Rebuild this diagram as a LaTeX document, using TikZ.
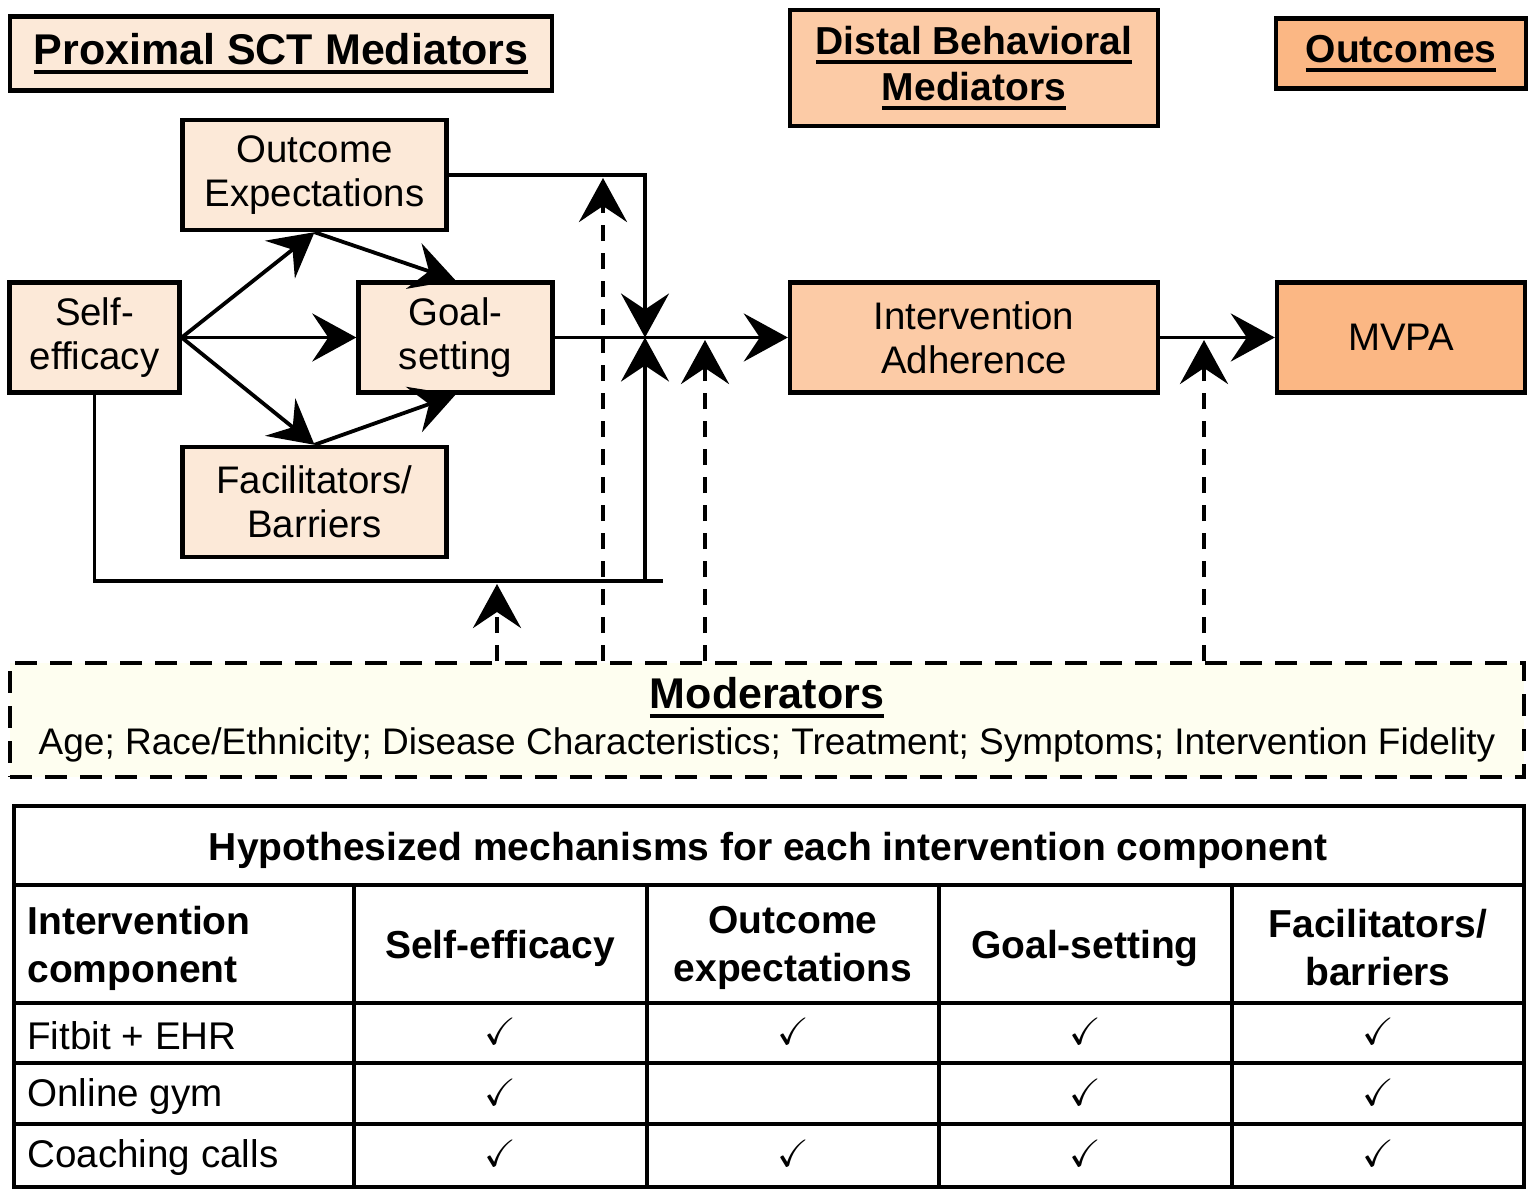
\documentclass[tikz,border=0pt]{standalone}
\usepackage{fontspec}
\setmainfont{Liberation Sans}
\usepackage{amssymb}
\usetikzlibrary{arrows.meta}
\definecolor{lightbox}{HTML}{FCE9D8}
\definecolor{midbox}{HTML}{FCCBA6}
\definecolor{darkbox}{HTML}{FBB784}
\definecolor{modfill}{HTML}{FEFEF0}
\newsavebox{\ulbox}
\newcommand{\ulined}[1]{\sbox{\ulbox}{#1}\rlap{\rule[-4.5pt]{\wd\ulbox}{1.9pt}}\usebox{\ulbox}}

\begin{document}
\begin{tikzpicture}[x=0.5pt, y=-0.5pt,
        box/.style={draw, line width=2.2pt, fill=lightbox, align=center, inner sep=0pt, font=\fontsize{19.2}{22}\selectfont},
        title/.style={box, font=\fontsize{19.5}{23}\selectfont\bfseries},
        arr/.style={line width=1.9pt, -{Stealth[length=22pt, width=24pt, inset=8pt]}},
        darr/.style={arr, line width=2.1pt, dash pattern=on 8pt off 6pt},
        cell/.style={font=\fontsize{19.3}{24}\selectfont, align=center, inner sep=0pt},
        hcell/.style={cell, font=\fontsize{19.5}{24}\selectfont\bfseries},
        check/.style={cell, font=\fontsize{19}{20}\selectfont},
        grid/.style={line width=2pt}]
        \useasboundingbox (0,0) rectangle (1535,1194);
        \node[title, font=\fontsize{21.5}{24}\selectfont\bfseries, minimum width=271pt, minimum height=37pt](prox) at (281,53.5) {\ulined{Proximal SCT Mediators}};
        \node[title, fill=midbox, minimum width=184pt, minimum height=58pt](dist) at (974,68) {\ulined{Distal Behavioral}\\\ulined{Mediators}};
        \node[title, fill=darkbox, minimum width=125pt, minimum height=35pt](outc) at (1401,53.5) {\ulined{Outcomes}};
        \node[box, minimum width=132pt, minimum height=55pt](oe) at (314.5,175) {Outcome\\Expectations};
        \node[box, minimum width=85pt, minimum height=55pt](se) at (94.5,337.5) {Self-\\efficacy};
        \node[box, minimum width=97pt, minimum height=55pt](gs) at (455.5,337.5) {Goal-\\setting};
        \node[box, minimum width=132pt, minimum height=55pt](fb) at (314.5,502) {Facilitators/\\Barriers};
        \node[box, fill=midbox, minimum width=184pt, minimum height=55pt](ia) at (974,337.5) {Intervention\\Adherence};
        \node[box, fill=darkbox, minimum width=124pt, minimum height=55pt](mvpa) at (1401,337.5) {MVPA};
        \node[box, fill=modfill, line width=2pt, dash pattern=on 11pt off 6.5pt, minimum width=757pt, minimum height=57pt](mod) at (767,720) {\fontsize{21.5}{24}\selectfont\bfseries\ulined{Moderators}\\[1pt]\fontsize{18.5}{22}\selectfont Age; Race/Ethnicity; Disease Characteristics; Treatment; Symptoms; Intervention Fidelity};
        \coordinate(j) at (645,337.5);
        \coordinate(bend) at (663,581);
        \coordinate(foot) at (645,581);
        \coordinate(m1) at (497,584);
        \coordinate(m2) at (603,178);
        \coordinate(m3) at (705,340);
        \coordinate(m4) at (1204,340);
        \draw[arr](se.east)--(oe.south);
        \draw[arr](se.east)--(gs.west);
        \draw[arr](se.east)--(fb.north);
        \draw[arr](oe.south)--(gs.north);
        \draw[arr](fb.north)--(gs.south);
        \draw[arr](gs.east)--(ia.west);
        \draw[arr](oe.east)-|(j);
        \draw[line width=1.9pt](se.south)|-(bend);
        \draw[arr](foot)--(j);
        \draw[arr](ia.east)--(mvpa.west);
        \draw[darr](m1 |- mod.north)--(m1);
        \draw[darr](m2 |- mod.north)--(m2);
        \draw[darr](m3 |- mod.north)--(m3);
        \draw[darr](m4 |- mod.north)--(m4);
        \draw[grid](14,806) rectangle (1524,1187);
        \draw[grid](14,885)--(1524,885);
        \draw[grid](14,1003)--(1524,1003);
        \draw[grid](14,1063)--(1524,1063);
        \draw[grid](14,1124)--(1524,1124);
        \draw[grid](354,885)--(354,1187);
        \draw[grid](647,885)--(647,1187);
        \draw[grid](939,885)--(939,1187);
        \draw[grid](1232,885)--(1232,1187);
        \node[hcell](thead) at (768,850) {Hypothesized mechanisms for each intervention component};
        \node[hcell, anchor=west, align=left](hcomp) at (27,948) {Intervention\\component};
        \node[hcell](hse) at (500,948) {Self-efficacy};
        \node[hcell](hoe) at (793,948) {Outcome\\expectations};
        \node[hcell](hgs) at (1085,948) {Goal-setting};
        \node[hcell](hfb) at (1378,948) {Facilitators/\\barriers};
        \node[cell, anchor=west](rfit) at (27,1036) {Fitbit + EHR};
        \node[cell, anchor=west](rgym) at (27,1097) {Online gym};
        \node[cell, anchor=west](rcall) at (27,1158) {Coaching calls};
        \node[check](k11) at (500,1031) {$\checkmark$};
        \node[check](k12) at (793,1031) {$\checkmark$};
        \node[check](k13) at (1085,1031) {$\checkmark$};
        \node[check](k14) at (1378,1031) {$\checkmark$};
        \node[check](k21) at (500,1092) {$\checkmark$};
        \node[check](k23) at (1085,1092) {$\checkmark$};
        \node[check](k24) at (1378,1092) {$\checkmark$};
        \node[check](k31) at (500,1153) {$\checkmark$};
        \node[check](k32) at (793,1153) {$\checkmark$};
        \node[check](k33) at (1085,1153) {$\checkmark$};
        \node[check](k34) at (1378,1153) {$\checkmark$};
        \end{tikzpicture}
\end{document}
